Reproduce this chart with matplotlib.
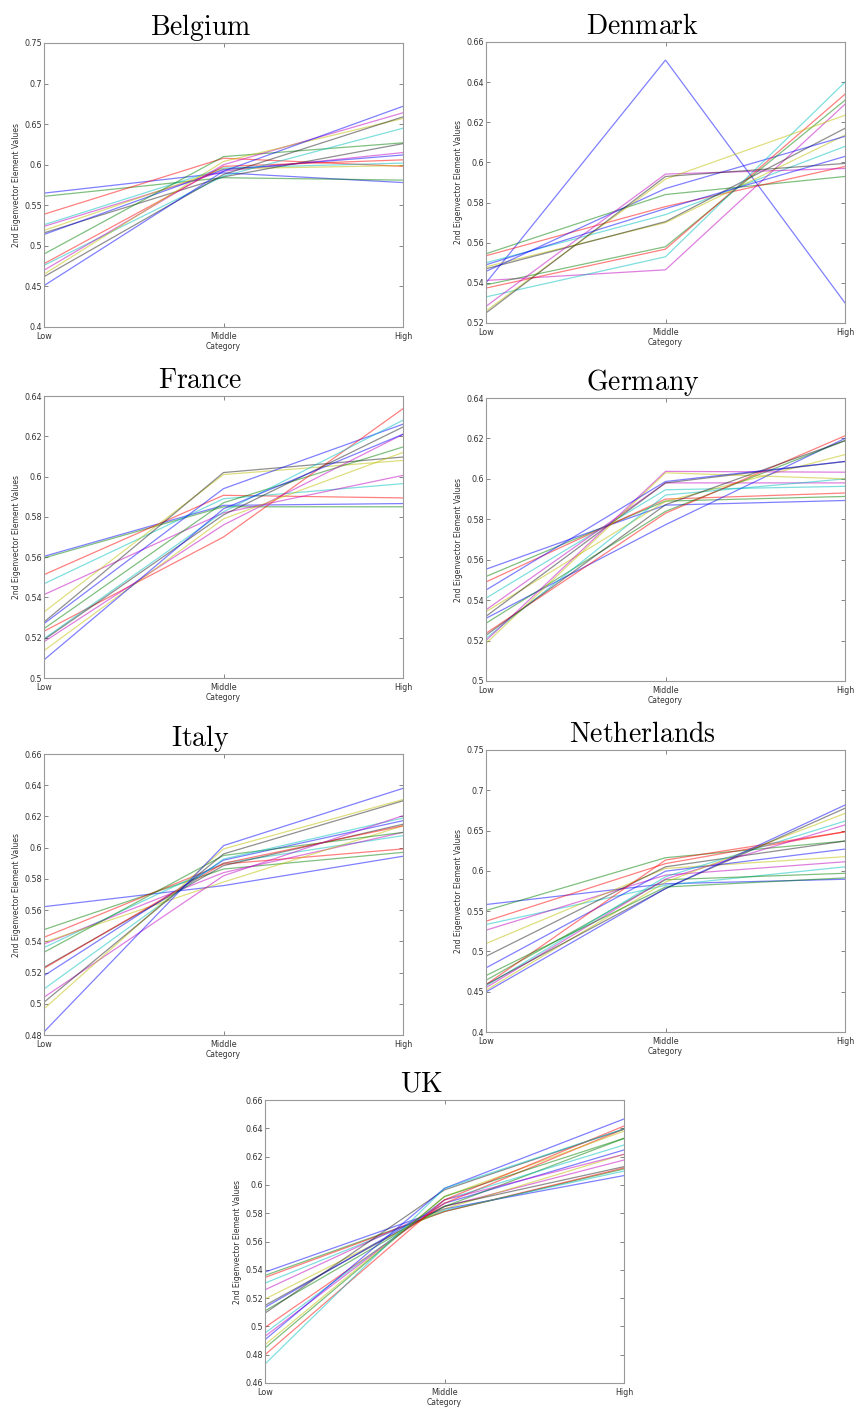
import matplotlib
matplotlib.use("Agg")
import matplotlib.pyplot as plt
from matplotlib.ticker import FuncFormatter, MultipleLocator

CATEGORIES = ["Low", "Middle", "High"]

BELGIUM_LOW = [0.565, 0.561, 0.539, 0.526, 0.524, 0.519, 0.516, 0.514, 0.490, 0.478, 0.476, 0.470, 0.465, 0.462, 0.451]
BELGIUM_MID = [0.590, 0.584, 0.608, 0.596, 0.592, 0.595, 0.585, 0.594, 0.610, 0.598, 0.586, 0.600, 0.604, 0.588, 0.592]
BELGIUM_HIGH = [0.578, 0.581, 0.598, 0.602, 0.615, 0.599, 0.626, 0.612, 0.627, 0.606, 0.645, 0.664, 0.657, 0.659, 0.672]

DENMARK_LOW = [0.540, 0.5545, 0.5535, 0.550, 0.5412, 0.548, 0.547, 0.5457, 0.539, 0.5374, 0.533, 0.5283, 0.526, 0.525, 0.549]
DENMARK_MID = [0.651, 0.584, 0.578, 0.574, 0.5465, 0.570, 0.5705, 0.587, 0.558, 0.5568, 0.553, 0.5942, 0.5917, 0.593, 0.577]
DENMARK_HIGH = [0.530, 0.593, 0.598, 0.608, 0.629, 0.6136, 0.617, 0.613, 0.631, 0.634, 0.640, 0.597, 0.6235, 0.5995, 0.603]

FRANCE_LOW = [0.5604, 0.5596, 0.5513, 0.5468, 0.5414, 0.5328, 0.5278, 0.527, 0.5245, 0.5232, 0.5195, 0.518, 0.5136, 0.519, 0.509]
FRANCE_MID = [0.5857, 0.585, 0.5907, 0.589, 0.582, 0.601, 0.602, 0.594, 0.587, 0.570, 0.5825, 0.576, 0.579, 0.581, 0.584]
FRANCE_HIGH = [0.5866, 0.585, 0.5894, 0.5965, 0.6006, 0.608, 0.6097, 0.626, 0.6147, 0.6337, 0.628, 0.621, 0.612, 0.6246, 0.621]

GERMANY_LOW = [0.5553, 0.5517, 0.549, 0.541, 0.5352, 0.5343, 0.532, 0.531, 0.5286, 0.5236, 0.5211, 0.520, 0.5186, 0.5226, 0.545]
GERMANY_MID = [0.587, 0.589, 0.590, 0.5946, 0.598, 0.5888, 0.598, 0.5773, 0.5839, 0.583, 0.592, 0.6037, 0.603, 0.5872, 0.5987]
GERMANY_HIGH = [0.5893, 0.5913, 0.593, 0.5963, 0.598, 0.612, 0.6086, 0.620, 0.6189, 0.6213, 0.600, 0.6033, 0.600, 0.6189, 0.6086]

ITALY_LOW = [0.5622, 0.5475, 0.5426, 0.536, 0.5383, 0.5394, 0.5233, 0.518, 0.533, 0.5227, 0.5095, 0.5042, 0.4968, 0.501, 0.482]
ITALY_MID = [0.5757, 0.5863, 0.5895, 0.590, 0.584, 0.578, 0.5885, 0.592, 0.595, 0.590, 0.5927, 0.582, 0.5992, 0.596, 0.6013]
ITALY_HIGH = [0.5945, 0.597, 0.5992, 0.6077, 0.6098, 0.614, 0.615, 0.6173, 0.6098, 0.614, 0.619, 0.6205, 0.6308, 0.630, 0.638]

NETHERLANDS_LOW = [0.5582, 0.5508, 0.5375, 0.5334, 0.5264, 0.5098, 0.494, 0.4796, 0.4642, 0.4588, 0.4572, 0.455, 0.4518, 0.4588, 0.4497, 0.470]
NETHERLANDS_MID = [0.584, 0.6163, 0.609, 0.582, 0.5947, 0.603, 0.605, 0.5996, 0.589, 0.6134, 0.5927, 0.590, 0.586, 0.578, 0.578, 0.580]
NETHERLANDS_HIGH = [0.5896, 0.637, 0.6485, 0.605, 0.6113, 0.6176, 0.637, 0.627, 0.597, 0.6485, 0.6618, 0.657, 0.6713, 0.6777, 0.6817, 0.5913]

UK_LOW = [0.5384, 0.536, 0.5346, 0.5306, 0.5259, 0.5193, 0.5148, 0.5134, 0.511, 0.4993, 0.4953, 0.493, 0.4871, 0.5094, 0.4906, 0.4847, 0.480, 0.4734]
UK_MID = [0.583, 0.5812, 0.5812, 0.582, 0.5847, 0.5831, 0.585, 0.587, 0.5847, 0.587, 0.5894, 0.5894, 0.5918, 0.5965, 0.5976, 0.5918, 0.5894, 0.5976]
UK_HIGH = [0.6066, 0.6113, 0.612, 0.6098, 0.6176, 0.6216, 0.6129, 0.6247, 0.6329, 0.6395, 0.6282, 0.6216, 0.638, 0.6395, 0.6466, 0.6329, 0.6416, 0.6395]

PANELS = [
    ("Belgium", BELGIUM_LOW, BELGIUM_MID, BELGIUM_HIGH, (0.40, 0.75), 0.05, (44, 43, 403, 327)),
    ("Denmark", DENMARK_LOW, DENMARK_MID, DENMARK_HIGH, (0.52, 0.66), 0.02, (486, 42, 845, 323)),
    ("France", FRANCE_LOW, FRANCE_MID, FRANCE_HIGH, (0.50, 0.64), 0.02, (44, 396, 403, 678)),
    ("Germany", GERMANY_LOW, GERMANY_MID, GERMANY_HIGH, (0.50, 0.64), 0.02, (486, 398, 845, 681)),
    ("Italy", ITALY_LOW, ITALY_MID, ITALY_HIGH, (0.48, 0.66), 0.02, (44, 754, 403, 1035)),
    ("Netherlands", NETHERLANDS_LOW, NETHERLANDS_MID, NETHERLANDS_HIGH, (0.40, 0.75), 0.05, (486, 750, 845, 1032)),
    ("UK", UK_LOW, UK_MID, UK_HIGH, (0.46, 0.66), 0.02, (265, 1100, 624, 1383)),
]

COLORS = ["#0000ff", "#008000", "#ff0000", "#00bfbf", "#bf00bf", "#bfbf00", "#202020"]

plt.rcParams["mathtext.fontset"] = "cm"

W, H = 858, 1416
fig = plt.figure(figsize=(W / 100, H / 100), dpi=100)

fmt = FuncFormatter(lambda v, p: ("%g" % round(v, 4)))

for name, low, mid, high, ylim, step, (l, t, r, b) in PANELS:
    ax = fig.add_axes([l / W, 1 - b / H, (r - l) / W, (b - t) / H])
    xs = list(range(1, len(CATEGORIES) + 1))
    for i in range(len(low)):
        ax.plot(xs, [low[i], mid[i], high[i]], color=COLORS[i % len(COLORS)],
                lw=0.9, alpha=0.5, solid_joinstyle="miter")
    ax.set_xlim(1, 3)
    ax.set_ylim(*ylim)
    ax.set_xticks(xs)
    ax.set_xticklabels(CATEGORIES)
    ax.yaxis.set_major_locator(MultipleLocator(step))
    ax.yaxis.set_major_formatter(fmt)
    ax.tick_params(direction="in", length=3, width=0.5, labelsize=5.8,
                   colors="#555555", labelcolor="#333333",
                   top=True, right=True)
    ax.tick_params(axis="y", pad=1.5)
    ax.tick_params(axis="x", pad=3.5)
    for s in ax.spines.values():
        s.set_color("#999999")
        s.set_linewidth(0.8)
    ax.set_xlabel("Category", fontsize=5.5, color="#333333", labelpad=0.5)
    ax.set_ylabel("2nd Eigenvector Element Values", fontsize=5.5, color="#333333", labelpad=2)
    ax.set_title(r"$\mathrm{%s}$" % name, fontsize=20, pad=6,
                 x=0.5 - 23 / (r - l))

fig.savefig("out.png", dpi=100, facecolor="white")
